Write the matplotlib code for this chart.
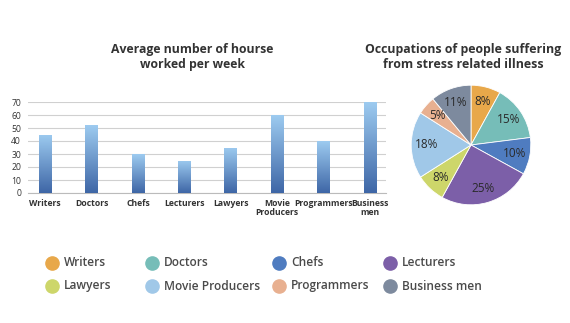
import numpy as np
import matplotlib
matplotlib.use('Agg')
import matplotlib.pyplot as plt
from matplotlib.colors import LinearSegmentedColormap

plt.rcParams['font.family'] = ['Open Sans', 'DejaVu Sans']

jobs = ['Writers', 'Doctors', 'Chefs', 'Lecturers', 'Lawyers', 'Movie\nProducers', 'Programmers', 'Business\nmen']
hours = [45, 52, 30, 25, 35, 60, 40, 70]

legend_names = ['Writers', 'Doctors', 'Chefs', 'Lecturers', 'Lawyers', 'Movie Producers', 'Programmers', 'Business men']
stress_pct = [8, 15, 10, 25, 8, 18, 5, 11]
pie_colors = ['#E8A84A', '#76BDB8', '#4F7CC0', '#7C5FA8', '#CDD66A', '#A0C8E8', '#E8B090', '#7D8A9E']

W, H = 570, 323
fig = plt.figure(figsize=(W / 100, H / 100), dpi=100)
fig.patch.set_facecolor('white')

def px(x0, y0, x1, y1):
    # pixel box (top-left origin) -> figure fraction
    return [x0 / W, (H - y1) / H, (x1 - x0) / W, (y1 - y0) / H]

txt = '#333333'

# ---- bar chart
ax = fig.add_axes(px(28, 102, 386, 193))
x = np.arange(len(jobs))
bars = ax.bar(x, hours, width=0.27, color='none', zorder=3)
cmap = LinearSegmentedColormap.from_list('bl', ['#3E66A6', '#9DCBF0'])
grad = np.linspace(0, 1, 256).reshape(-1, 1)
for b in bars:
    bx, bw, bh = b.get_x(), b.get_width(), b.get_height()
    im = ax.imshow(grad, extent=[bx, bx + bw, 0, bh], origin='lower', aspect='auto',
                   cmap=cmap, zorder=3)
    im.set_clip_path(b)
ax.set_xlim(-0.37, 7.35)
ax.set_ylim(0, 70)
ax.set_yticks(range(0, 71, 10))
ax.grid(axis='y', color='#D0D0D0', lw=0.8, zorder=0)
ax.set_axisbelow(True)
for s in ['top', 'right', 'left']:
    ax.spines[s].set_visible(False)
ax.spines['bottom'].set_color('#BBBBBB')
ax.set_xticks(x)
ax.set_xticklabels(jobs, fontsize=6.2, fontweight='bold', color=txt, linespacing=1.1)
ax.tick_params(axis='both', length=0, labelsize=6.2, labelcolor=txt)
ax.tick_params(axis='x', pad=4)
ax.tick_params(axis='y', pad=5)
fig.text(192 / W, 1 - 57 / H, 'Average number of hourse\nworked per week', ha='center', va='center',
         fontsize=8.8, fontweight='bold', color=txt, linespacing=1.25)

# ---- pie chart
pax = fig.add_axes(px(410, 84, 532, 206))
wedges, _, autot = pax.pie(stress_pct, colors=pie_colors, startangle=90, counterclock=False,
                           autopct='%d%%', pctdistance=0.75,
                           wedgeprops=dict(edgecolor='white', linewidth=0.6),
                           textprops=dict(fontsize=8.5, color='#2a2a2a'))
pax.set_xlim(-1.02, 1.02)
pax.set_ylim(-1.02, 1.02)
fig.text(463 / W, 1 - 57 / H, 'Occupations of people suffering\nfrom stress related illness', ha='center',
         va='center', fontsize=8.9, fontweight='bold', color=txt, linespacing=1.25)

# ---- legend
col_x = [52, 152, 279, 390]
row_y = [263, 286]
for i, (name, c) in enumerate(zip(legend_names, pie_colors)):
    cx = col_x[i % 4]
    cy = row_y[i // 4]
    fig.add_artist(plt.Line2D([cx / W], [1 - cy / H], marker='o', markersize=9.5, color=c,
                              linestyle='none', transform=fig.transFigure))
    fig.text((cx + 12) / W, 1 - cy / H, name, ha='left', va='center', fontsize=8.6,
             fontweight='semibold', color='#4a4a4a')

fig.savefig('out.png', dpi=100, facecolor='white')
